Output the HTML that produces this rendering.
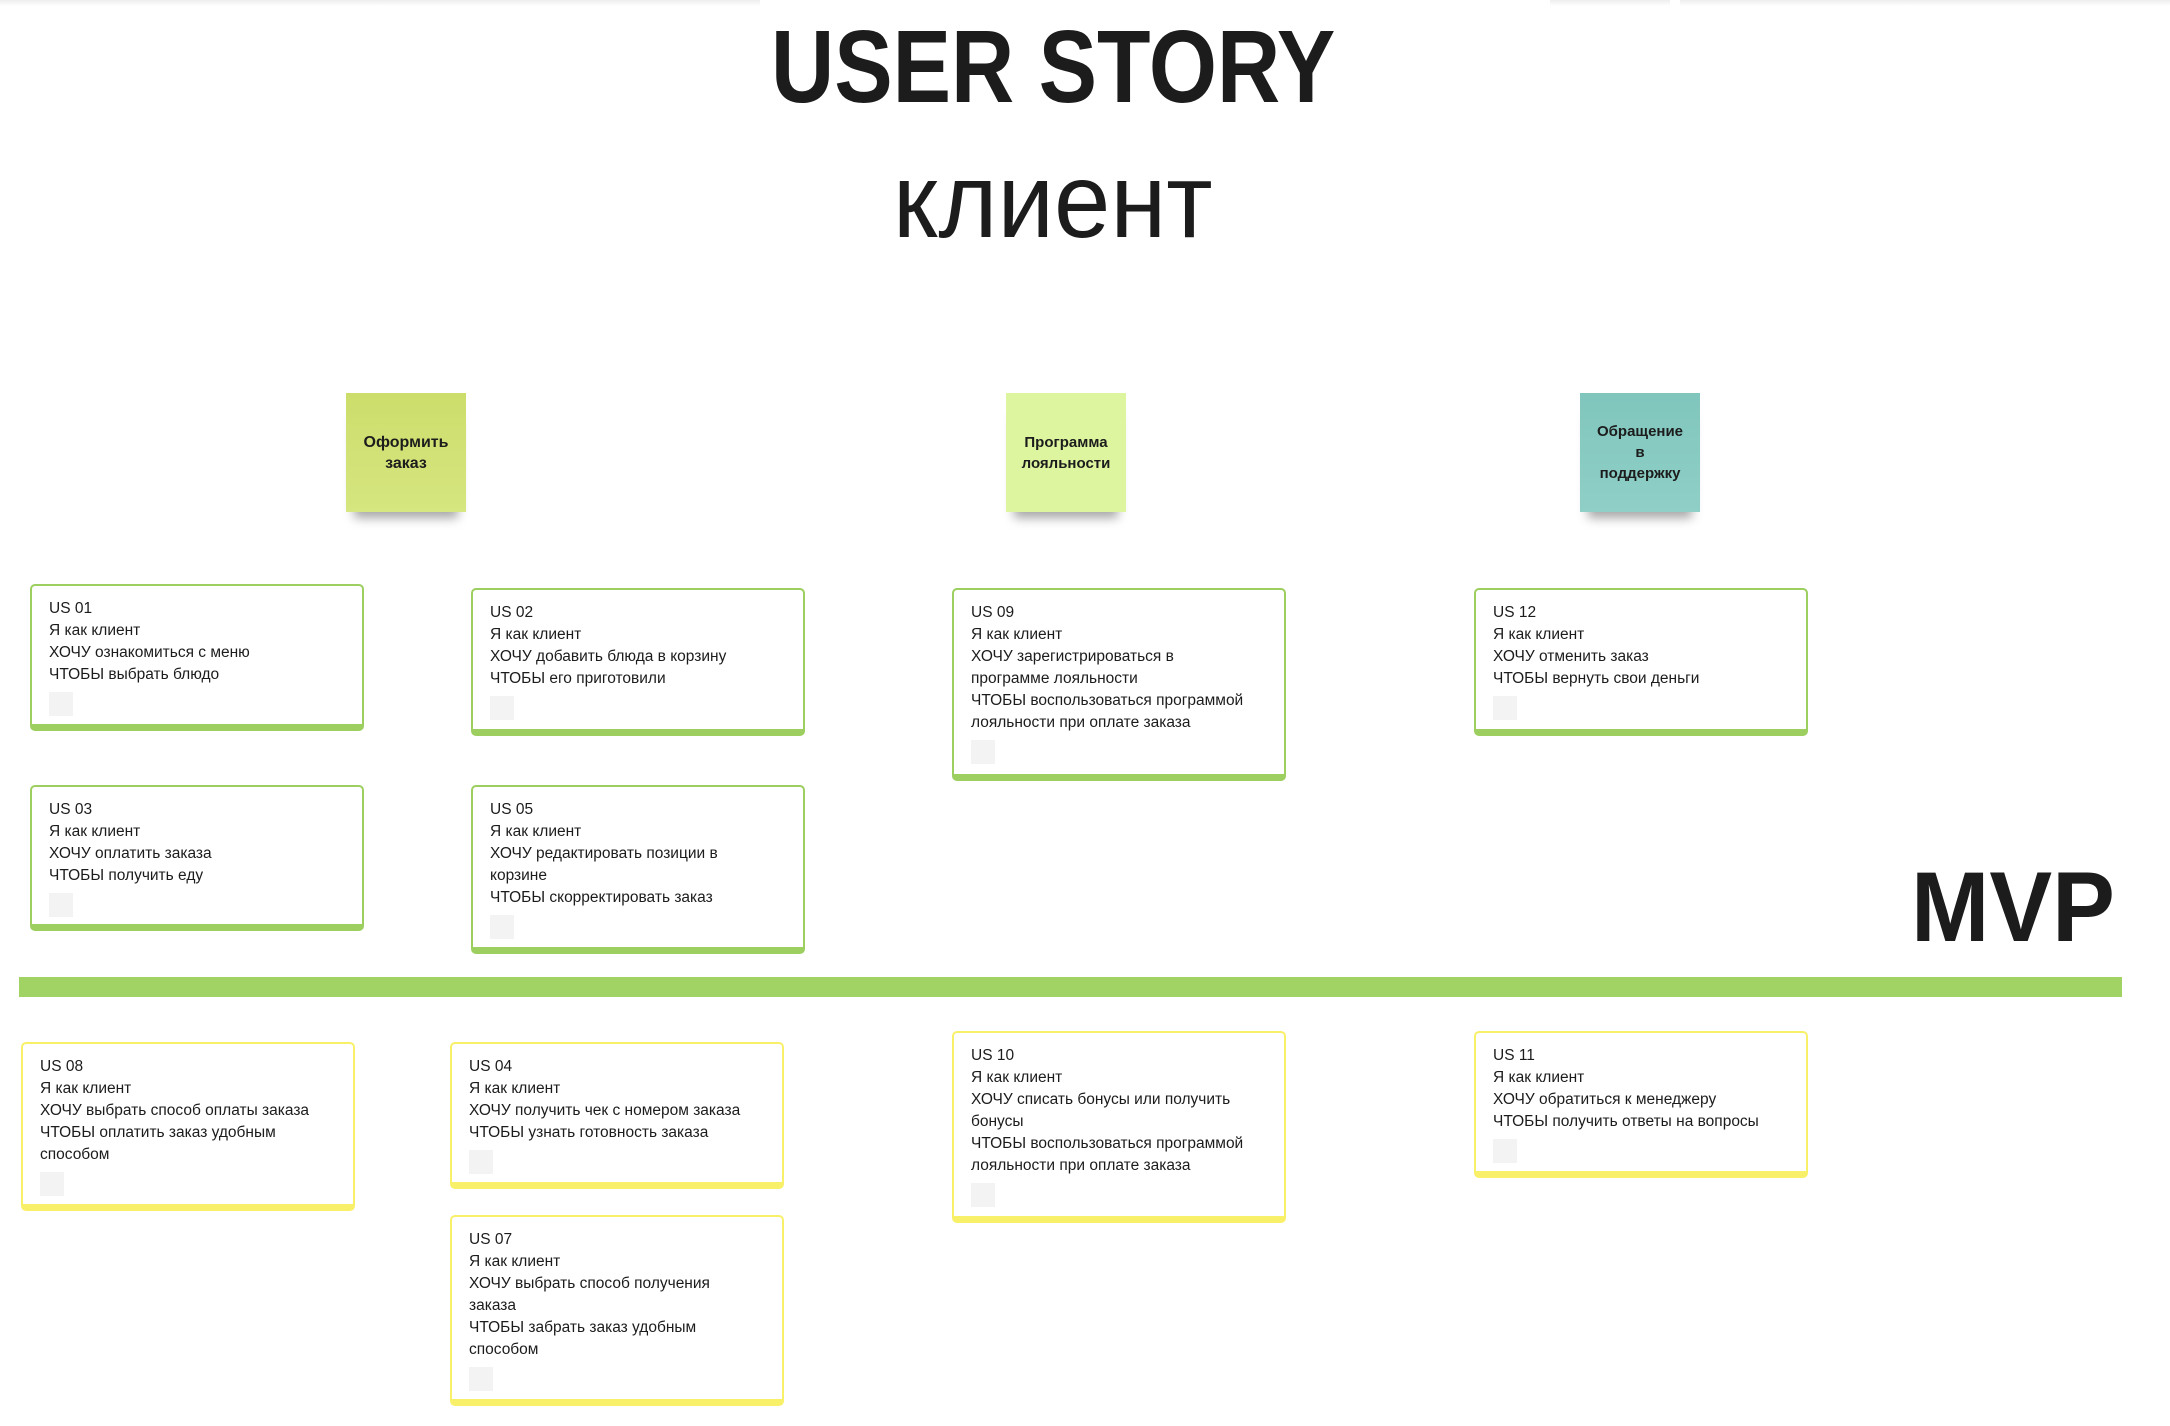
<!DOCTYPE html>
<html><head><meta charset="utf-8"><style>
body{margin:0;width:2170px;height:1426px;background:#fff;position:relative;overflow:hidden;font-family:"Liberation Sans","DejaVu Sans",sans-serif;color:#1c1c1c}
.t{position:absolute;white-space:nowrap;transform-origin:0 0}
.s{position:absolute;width:120px;height:119px;display:flex;align-items:center;justify-content:center;text-align:center;font-weight:bold;font-size:16px;line-height:21px;box-shadow:0 14px 10px -8px rgba(0,0,0,.35)}
.c{position:absolute;width:334px;box-sizing:border-box;border:2.5px solid #9ccf5f;border-bottom-width:7px;border-radius:5px;padding:12px 10px 0 17px;font-size:15.5px;line-height:22px;background:#fff}
.y{border-color:#f9f06a}
.c i{display:block;width:24px;height:24px;background:#f3f3f3;margin-top:6px}
</style></head><body>
<div style="position:absolute;left:0;top:0;width:760px;height:6px;background:linear-gradient(#eee,#fff)"></div>
<div style="position:absolute;left:1550px;top:0;width:120px;height:6px;background:linear-gradient(#eee,#fff)"></div>
<div style="position:absolute;left:1680px;top:0;width:490px;height:6px;background:linear-gradient(#eee,#fff)"></div>
<div class="t" style="left:771px;top:8px;font-size:103px;font-weight:bold;transform:scaleX(.85)">USER STORY</div>
<div class="t" style="left:893px;top:141px;font-size:106px;transform:scaleX(.955)">клиент</div>
<div class="s" style="left:346px;top:393px;background:linear-gradient(#cddd6b,#d6e680)">Оформить<br>заказ</div>
<div class="s" style="left:1006px;top:393px;background:#dcf59e;font-size:15px">Программа<br>лояльности</div>
<div class="s" style="left:1580px;top:393px;background:linear-gradient(#80c6bd,#8fcfc7);font-size:15px">Обращение<br>в<br>поддержку</div>

<div class="c" style="left:30px;top:584px;height:147px">US 01<br>Я как клиент<br>ХОЧУ ознакомиться с меню<br>ЧТОБЫ выбрать блюдо<i></i></div>
<div class="c" style="left:471px;top:588px;height:148px">US 02<br>Я как клиент<br>ХОЧУ добавить блюда в корзину<br>ЧТОБЫ его приготовили<i></i></div>
<div class="c" style="left:30px;top:785px;height:146px">US 03<br>Я как клиент<br>ХОЧУ оплатить заказа<br>ЧТОБЫ получить еду<i></i></div>
<div class="c" style="left:471px;top:785px;height:169px">US 05<br>Я как клиент<br>ХОЧУ редактировать позиции в<br>корзине<br>ЧТОБЫ скорректировать заказ<i></i></div>
<div class="c" style="left:952px;top:588px;height:193px">US 09<br>Я как клиент<br>ХОЧУ зарегистрироваться в<br>программе лояльности<br>ЧТОБЫ воспользоваться программой<br>лояльности при оплате заказа<i></i></div>
<div class="c" style="left:1474px;top:588px;height:148px">US 12<br>Я как клиент<br>ХОЧУ отменить заказ<br>ЧТОБЫ вернуть свои деньги<i></i></div>

<div class="t" style="left:1911px;top:850px;font-size:99px;font-weight:bold;transform:scaleX(.95)">MVP</div>
<div style="position:absolute;left:19px;top:977px;width:2103px;height:20px;background:#a0d264"></div>

<div class="c y" style="left:21px;top:1042px;height:169px">US 08<br>Я как клиент<br>ХОЧУ выбрать способ оплаты заказа<br>ЧТОБЫ оплатить заказ удобным<br>способом<i></i></div>
<div class="c y" style="left:450px;top:1042px;height:147px">US 04<br>Я как клиент<br>ХОЧУ получить чек с номером заказа<br>ЧТОБЫ узнать готовность заказа<i></i></div>
<div class="c y" style="left:450px;top:1215px;height:191px">US 07<br>Я как клиент<br>ХОЧУ выбрать способ получения<br>заказа<br>ЧТОБЫ забрать заказ удобным<br>способом<i></i></div>
<div class="c y" style="left:952px;top:1031px;height:192px">US 10<br>Я как клиент<br>ХОЧУ списать бонусы или получить<br>бонусы<br>ЧТОБЫ воспользоваться программой<br>лояльности при оплате заказа<i></i></div>
<div class="c y" style="left:1474px;top:1031px;height:147px">US 11<br>Я как клиент<br>ХОЧУ обратиться к менеджеру<br>ЧТОБЫ получить ответы на вопросы<i></i></div>
</body></html>
